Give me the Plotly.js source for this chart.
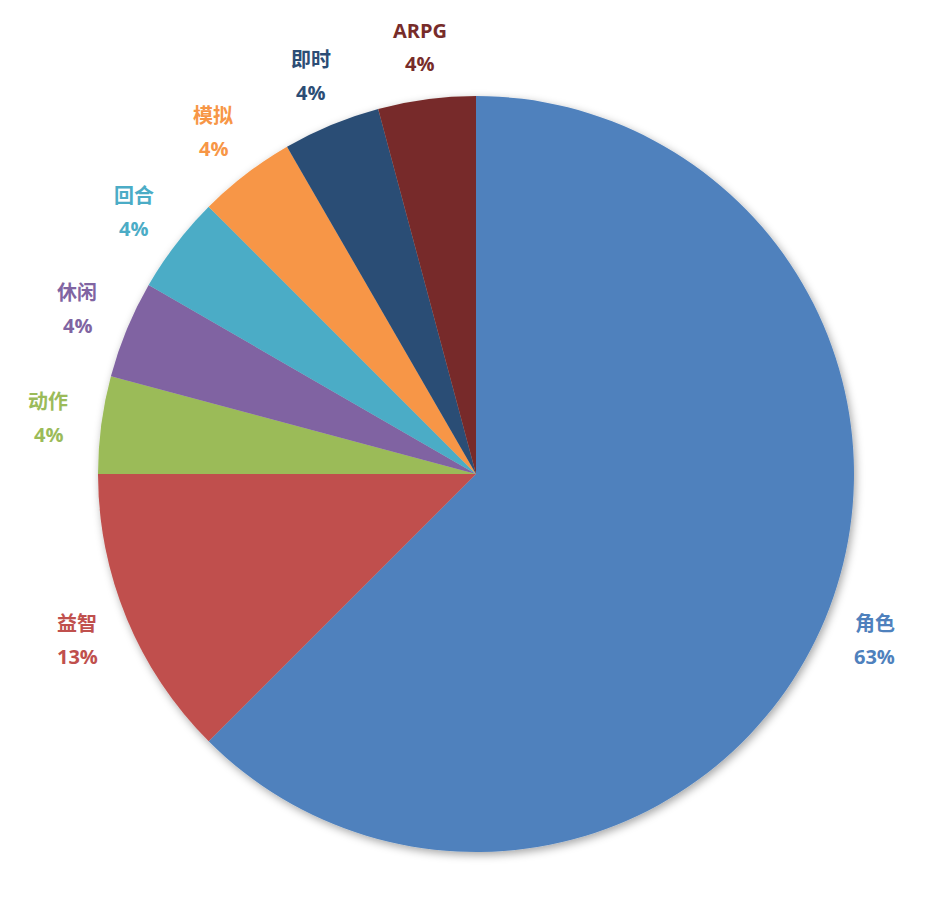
<!DOCTYPE html>
<html>
<head>
<meta charset="utf-8">
<script src="https://cdn.plot.ly/plotly-3.0.1.min.js"></script>
<style>html,body{margin:0;padding:0;background:#fff;}</style>
</head>
<body>
<div id="chart" style="width:928px;height:908px;"></div>
<script>
const categories = ['角色', '益智', '动作', '休闲', '回合', '模拟', '即时', 'ARPG'];
const counts = [15, 3, 1, 1, 1, 1, 1, 1];
const colors = ['#4F81BD', '#C0504D', '#9BBB59', '#8064A2', '#4BACC6', '#F79646', '#2C4D75', '#772C2A'];

const total = counts.reduce((a, b) => a + b, 0);
const labelFont = {family: '"Open Sans", "Noto Sans CJK SC", sans-serif', size: 20, weight: 'bold'};
const labelR = 1.142;

const annotations = [];
let cum = 0;
counts.forEach((v, i) => {
  const mid = (cum + v / 2) / total * 2 * Math.PI;
  cum += v;
  const x = 0.5 + 0.5 * labelR * Math.sin(mid);
  const y = 0.5 + 0.5 * labelR * Math.cos(mid);
  const pct = Math.round(v / total * 100) + '%';
  const f = Object.assign({}, labelFont, {color: colors[i]});
  annotations.push({xref: 'paper', yref: 'paper', x: x, y: y, text: '<b>' + categories[i] + '</b>', showarrow: false, font: f, xanchor: 'center', yanchor: 'middle', yshift: 16});
  annotations.push({xref: 'paper', yref: 'paper', x: x, y: y, text: '<b>' + pct + '</b>', showarrow: false, font: f, xanchor: 'center', yanchor: 'middle', yshift: -17});
});

const data = [{
  type: 'pie',
  labels: categories,
  values: counts,
  sort: false,
  direction: 'clockwise',
  rotation: 0,
  marker: {colors: colors, line: {width: 0}},
  textinfo: 'none',
  hoverinfo: 'label+percent',
  showlegend: false
}];

const layout = {
  width: 928,
  height: 908,
  margin: {l: 98, r: 74, t: 96, b: 56},
  paper_bgcolor: '#ffffff',
  plot_bgcolor: '#ffffff',
  showlegend: false,
  annotations: annotations
};

Plotly.newPlot('chart', data, layout, {displayModeBar: false, staticPlot: true}).then(() => {
  const svg = document.querySelector('#chart .main-svg');
  const ns = 'http://www.w3.org/2000/svg';
  let defs = svg.querySelector('defs');
  if (!defs) { defs = document.createElementNS(ns, 'defs'); svg.insertBefore(defs, svg.firstChild); }
  const filter = document.createElementNS(ns, 'filter');
  filter.setAttribute('id', 'pieShadow');
  filter.setAttribute('x', '-20%'); filter.setAttribute('y', '-20%');
  filter.setAttribute('width', '140%'); filter.setAttribute('height', '140%');
  const ds = document.createElementNS(ns, 'feDropShadow');
  ds.setAttribute('dx', '2'); ds.setAttribute('dy', '3');
  ds.setAttribute('stdDeviation', '4');
  ds.setAttribute('flood-color', '#000');
  ds.setAttribute('flood-opacity', '0.35');
  filter.appendChild(ds);
  defs.appendChild(filter);
  const trace = svg.querySelector('.pielayer .trace');
  if (trace) trace.setAttribute('filter', 'url(#pieShadow)');
});
</script>
</body>
</html>
